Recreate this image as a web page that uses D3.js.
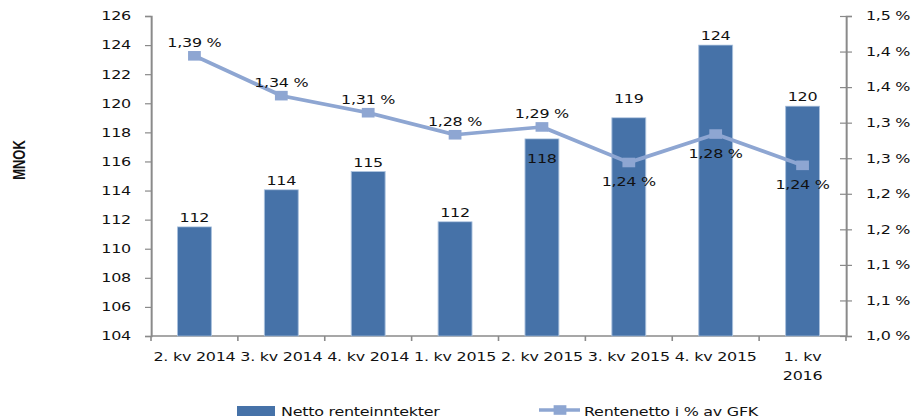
<!DOCTYPE html>
<html>
<head>
<meta charset="utf-8">
<script src="https://cdn.jsdelivr.net/npm/d3@7"></script>
<style>
  body { margin: 0; background: #fff; }
  svg { display: block; }
  text { font-family: "DejaVu Sans", Verdana, sans-serif; fill: #111; letter-spacing: -0.2px; }
</style>
</head>
<body>
<svg id="chart"></svg>
<script>
// Data
var quarters = ["2. kv 2014", "3. kv 2014", "4. kv 2014", "1. kv 2015", "2. kv 2015", "3. kv 2015", "4. kv 2015", "1. kv 2016"];
var tickLabels = ["2. kv 2014", "3. kv 2014", "4. kv 2014", "1. kv 2015", "2. kv 2015", "3. kv 2015", "4. kv 2015", "1. kv\n2016"];
var nettoRente = [111.5, 114.05, 115.3, 111.85, 117.55, 119.0, 124.0, 119.8];
var renteProsent = [1.394, 1.338, 1.314, 1.283, 1.294, 1.244, 1.284, 1.240];
var leftTicks = [104, 106, 108, 110, 112, 114, 116, 118, 120, 122, 124, 126];
var rightTicks = [1.0, 1.05, 1.1, 1.15, 1.2, 1.25, 1.3, 1.35, 1.4, 1.45];
// where the data labels sit (as in the original)
var barLabelPlace = ["above", "above", "above", "above", "inside", "high", "above", "above"];
var lineLabelPlace = ["above", "above", "above", "above", "above", "below", "below", "below"];

// the original picture is stretched horizontally, so draw in a narrower box and stretch it
var sx = 1.33;
var W = 912 / sx, H = 418;
var svg = d3.select("#chart")
    .attr("width", 912).attr("height", H)
    .attr("viewBox", "0 0 " + W + " " + H)
    .attr("preserveAspectRatio", "none");

var barColor = "#4672a8", lineColor = "#8ea6d2", axisColor = "#8a8a8a";
var fs = 12;

var x = d3.scaleBand().domain(quarters).range([151 / sx, 846 / sx]).paddingInner(0.61).paddingOuter(0.305);
var y = d3.scaleLinear().domain([104, 126]).range([336, 16]);
var y2 = d3.scaleLinear().domain([1.0, 1.45]).range([336, 16]);
var cx = function(d) { return x(d) + x.bandwidth() / 2; };

// left axis
var gL = svg.append("g").attr("transform", "translate(" + (151 / sx) + ",0)")
    .call(d3.axisLeft(y).tickValues(leftTicks).tickSize(6 / sx).tickPadding(14 / sx).tickFormat(d3.format("d")));
// right axis
var gR = svg.append("g").attr("transform", "translate(" + (846 / sx) + ",0)")
    .call(d3.axisRight(y2).tickValues(rightTicks).tickSize(6 / sx).tickPadding(14 / sx)
        .tickFormat(function(d) { return d3.format(".1f")(d + 1e-9).replace(".", ",") + " %"; }));
gR.selectAll(".tick line").attr("x1", -6 / sx);
[gL, gR].forEach(function(g) {
    g.select(".domain").attr("stroke", axisColor).attr("stroke-width", 1.5);
    g.selectAll(".tick line").attr("stroke", axisColor).attr("stroke-width", 1.2);
    g.selectAll(".tick text").attr("font-size", fs).attr("fill", "#111")
        .style("font-family", "'DejaVu Sans', Verdana, sans-serif");
});

// x axis line + ticks at category borders
svg.append("line").attr("x1", 151 / sx).attr("x2", 846 / sx).attr("y1", 336).attr("y2", 336)
    .attr("stroke", axisColor).attr("stroke-width", 1.5);
svg.append("g").selectAll("line").data(d3.range(quarters.length + 1)).join("line")
    .attr("x1", function(i) { return 151 / sx + i * x.step(); })
    .attr("x2", function(i) { return 151 / sx + i * x.step(); })
    .attr("y1", 336).attr("y2", 341)
    .attr("stroke", axisColor).attr("stroke-width", 1.2);

svg.append("g").selectAll("text").data(quarters).join("text")
    .attr("x", cx).attr("y", 361).attr("text-anchor", "middle").attr("font-size", fs)
    .each(function(d, i) {
        var parts = tickLabels[i].split("\n");
        d3.select(this).selectAll("tspan").data(parts).join("tspan")
            .attr("x", cx(d)).attr("dy", function(p, j) { return j ? 19 : 0; }).text(function(p) { return p; });
    });

// MNOK title
svg.append("text").attr("transform", "translate(" + (25 / sx) + ",160) rotate(-90)")
    .attr("text-anchor", "middle").attr("font-size", 13).attr("font-weight", "bold")
    .style("font-family", "'Liberation Sans', Arial, sans-serif").style("letter-spacing", "0px").text("MNOK");

// bars
svg.append("g").selectAll("rect").data(nettoRente).join("rect")
    .attr("x", function(d, i) { return x(quarters[i]); })
    .attr("width", x.bandwidth())
    .attr("y", function(d) { return y(d); })
    .attr("height", function(d) { return y(104) - y(d); })
    .attr("fill", barColor).attr("stroke", "#a9c0dd").attr("stroke-width", 0.7);

svg.append("g").selectAll("text").data(nettoRente).join("text")
    .attr("x", function(d, i) { return cx(quarters[i]); })
    .attr("y", function(d, i) {
        var p = barLabelPlace[i];
        if (p === "inside") return y(d) + 24;
        if (p === "high") return y(d) - 15;
        return y(d) - 5;
    })
    .attr("text-anchor", "middle").attr("font-size", fs)
    .text(function(d) { return d3.format(".0f")(d); });

// line
var line = d3.line().x(function(d, i) { return cx(quarters[i]); }).y(function(d) { return y2(d); });
svg.append("path").datum(renteProsent).attr("d", line)
    .attr("fill", "none").attr("stroke", lineColor).attr("stroke-width", 3.6).attr("stroke-linejoin", "round");
var ms = 9.6;
svg.append("g").selectAll("rect").data(renteProsent).join("rect")
    .attr("x", function(d, i) { return cx(quarters[i]) - ms / 2; })
    .attr("y", function(d) { return y2(d) - ms / 2; })
    .attr("width", ms).attr("height", ms).attr("fill", lineColor);

svg.append("g").selectAll("text").data(renteProsent).join("text")
    .attr("x", function(d, i) { return cx(quarters[i]); })
    .attr("y", function(d, i) { return lineLabelPlace[i] === "above" ? y2(d) - 9 : y2(d) + 24; })
    .attr("text-anchor", "middle").attr("font-size", fs)
    .text(function(d) { return d3.format(".2f")(d).replace(".", ",") + " %"; });

// legend
var lg = svg.append("g");
lg.append("rect").attr("x", 237 / sx).attr("y", 406).attr("width", 38 / sx).attr("height", 10).attr("fill", barColor);
lg.append("text").attr("x", 281 / sx).attr("y", 416).attr("font-size", fs).text("Netto renteinntekter");
lg.append("line").attr("x1", 539 / sx).attr("x2", 580 / sx).attr("y1", 410).attr("y2", 410)
    .attr("stroke", lineColor).attr("stroke-width", 3.6);
lg.append("rect").attr("x", 560 / sx - ms / 2).attr("y", 410 - ms / 2).attr("width", ms).attr("height", ms).attr("fill", lineColor);
lg.append("text").attr("x", 584 / sx).attr("y", 416).attr("font-size", fs).text("Rentenetto i % av GFK");
</script>
</body>
</html>
